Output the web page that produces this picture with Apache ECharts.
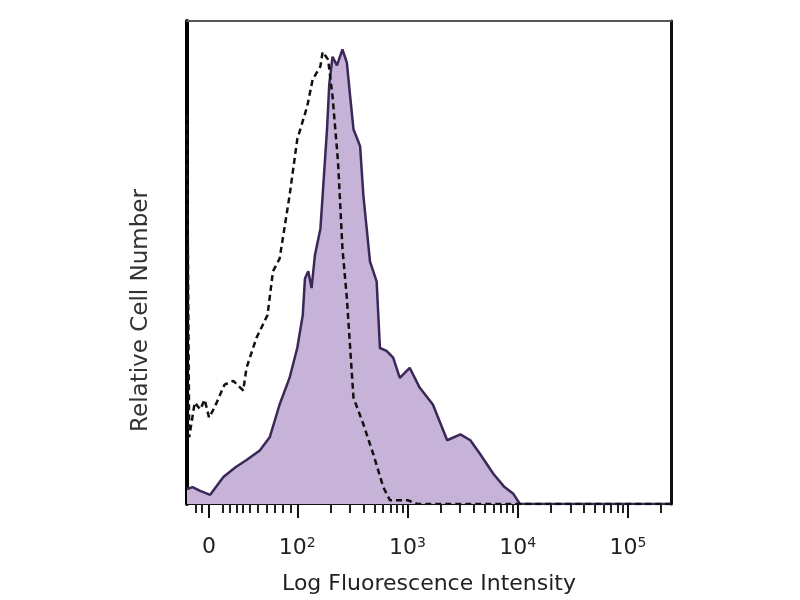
<!DOCTYPE html>
<html>
<head>
<meta charset="utf-8">
<script src="https://cdn.jsdelivr.net/npm/echarts@6/dist/echarts.min.js"></script>
<style>html,body{margin:0;padding:0;background:#fff}#c{width:800px;height:600px}</style>
</head>
<body>
<div id="c"></div>
<script>
// X values are in axis display units (decades of fluorescence; 2 = 10^2, 1.2 = "0")
const stainedX = [1.00,1.05,1.12,1.21,1.33,1.44,1.54,1.66,1.75,1.84,1.93,2.00,2.05,2.07,2.10,2.13,2.16,2.21,2.23,2.27,2.29,2.32,2.36,2.41,2.45,2.48,2.51,2.57,2.60,2.63,2.66,2.72,2.75,2.81,2.87,2.93,3.02,3.11,3.23,3.36,3.48,3.57,3.66,3.78,3.88,3.96,4.02,5.39];
const stainedY = [3.1,3.5,2.7,1.9,5.6,7.6,9.1,11.1,13.8,20.6,26.1,32.3,39.1,46.7,48.2,44.7,51.5,57.0,63.8,77.6,86.8,92.6,90.8,94.1,91.4,84.4,77.6,74.1,63.8,57.0,50.2,46.1,32.3,31.7,30.3,26.1,28.2,24.1,20.6,13.2,14.4,13.2,10.3,6.2,3.5,2.1,0,0];
const controlX = [1.00,1.02,1.07,1.12,1.16,1.20,1.25,1.34,1.42,1.51,1.54,1.63,1.73,1.78,1.84,1.93,2.00,2.09,2.14,2.21,2.23,2.28,2.32,2.37,2.41,2.45,2.48,2.51,2.60,2.69,2.78,2.84,3.00,3.09,5.39];
const controlY = [80.7,13.8,21.0,19.6,21.6,17.9,20.0,24.7,25.5,23.5,28.2,34.4,39.1,48.2,50.8,63.8,75.5,82.3,87.9,90.6,93.6,92.0,84.4,70.8,52.9,42.6,32.3,22.0,16.5,10.3,3.5,0.8,0.8,0,0];
const majorTicks = [1.2, 2, 3, 4, 5];
const tickLabels = ['0', '10{s|2}', '10{s|3}', '10{s|4}', '10{s|5}'];
const lowTicks = [1.08, 1.13, 1.32, 1.39, 1.45, 1.51, 1.57, 1.64, 1.72, 1.80, 1.87, 1.94];
const xTitle = 'Log Fluorescence Intensity';
const yTitle = 'Relative Cell Number';

const minorTicks = lowTicks.slice();
[2, 3, 4, 5].forEach(function (d) {
  for (let k = 2; k <= 9; k++) {
    const v = d + Math.log10(k);
    if (v < 5.39) minorTicks.push(+v.toFixed(4));
  }
});
const pairs = (xs, ys) => xs.map((x, i) => [x, ys[i]]);

const chart = echarts.init(document.getElementById('c'), null, {renderer: 'canvas'});
const XMIN = 1.0, XMAX = 5.39;
chart.setOption({
  animation: false,
  backgroundColor: '#ffffff',
  grid: {left: 187, right: 129, top: 21, bottom: 93},
  xAxis: [
    {
      type: 'value', min: XMIN, max: XMAX, position: 'bottom',
      axisLine: {show: true, lineStyle: {color: '#111', width: 2}},
      axisTick: {show: true, customValues: minorTicks, length: 9, lineStyle: {color: '#222', width: 2}},
      axisLabel: {
        show: true, customValues: majorTicks, margin: 32, color: '#222',
        fontFamily: 'DejaVu Sans', fontSize: 22,
        formatter: function (v) { const i = majorTicks.indexOf(v); return i >= 0 ? tickLabels[i] : ''; },
        rich: {s: {fontSize: 14, fontFamily: 'DejaVu Sans', color: '#222', verticalAlign: 'top', padding: [0, 0, 10, 0]}}
      },
      splitLine: {show: false},
      name: xTitle, nameLocation: 'middle', nameGap: 69,
      nameTextStyle: {fontFamily: 'DejaVu Sans', fontSize: 22, color: '#222'}
    },
    {
      type: 'value', min: XMIN, max: XMAX, position: 'bottom',
      axisLine: {show: false},
      axisTick: {show: true, customValues: majorTicks, length: 14, lineStyle: {color: '#111', width: 2}},
      axisLabel: {show: false}, splitLine: {show: false}
    },
    {
      type: 'value', min: XMIN, max: XMAX, position: 'top',
      axisLine: {show: true, lineStyle: {color: '#555', width: 2}},
      axisTick: {show: false}, axisLabel: {show: false}, splitLine: {show: false}
    }
  ],
  yAxis: [
    {
      type: 'value', min: 0, max: 100, position: 'left',
      axisLine: {show: true, lineStyle: {color: '#000', width: 4}},
      axisTick: {show: false}, axisLabel: {show: false}, splitLine: {show: false},
      name: yTitle, nameLocation: 'middle', nameGap: 34, nameRotate: 90,
      nameTextStyle: {fontFamily: 'DejaVu Sans', fontSize: 23, color: '#333', padding: [0, 96, 0, 0]}
    },
    {
      type: 'value', min: 0, max: 100, position: 'right',
      axisLine: {show: true, lineStyle: {color: '#111', width: 3}},
      axisTick: {show: false}, axisLabel: {show: false}, splitLine: {show: false}
    }
  ],
  series: [
    {
      name: 'Stained', type: 'line', xAxisIndex: 0, yAxisIndex: 0,
      data: pairs(stainedX, stainedY), symbol: 'none', silent: true,
      lineStyle: {color: '#3a2858', width: 2.5},
      areaStyle: {color: '#c7b3d7', opacity: 1},
      z: 2
    },
    {
      name: 'Control', type: 'line', xAxisIndex: 0, yAxisIndex: 0,
      data: pairs(controlX, controlY), symbol: 'none', silent: true,
      lineStyle: {color: '#111', width: 2.5, type: [6, 4]},
      z: 3
    }
  ]
});
</script>
</body>
</html>
